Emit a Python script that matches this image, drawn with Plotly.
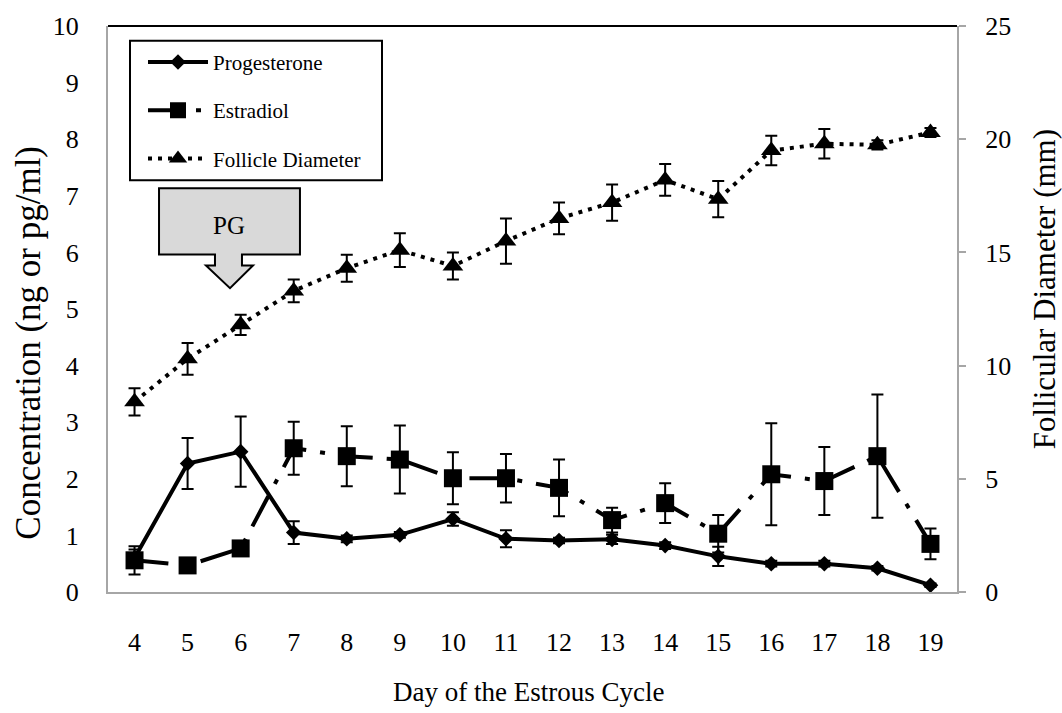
import plotly.graph_objects as go

days = list(range(4, 20))
progesterone = [0.60, 2.27, 2.48, 1.05, 0.94, 1.01, 1.29, 0.94, 0.91, 0.93, 0.82, 0.63, 0.50, 0.50, 0.42, 0.12]
progesterone_se = [0.15, 0.45, 0.62, 0.20, 0.06, 0.05, 0.12, 0.15, 0.05, 0.08, 0.06, 0.17, 0.05, 0.05, 0.04, 0.03]
estradiol = [0.56, 0.47, 0.77, 2.54, 2.40, 2.34, 2.01, 2.01, 1.84, 1.27, 1.57, 1.03, 2.08, 1.96, 2.40, 0.85]
estradiol_se = [0.25, 0.05, 0.10, 0.47, 0.53, 0.60, 0.46, 0.43, 0.50, 0.22, 0.35, 0.33, 0.90, 0.60, 1.09, 0.27]
follicle = [8.4, 10.3, 11.8, 13.3, 14.3, 15.1, 14.4, 15.5, 16.5, 17.2, 18.2, 17.35, 19.5, 19.8, 19.75, 20.3]
follicle_se = [0.6, 0.7, 0.45, 0.5, 0.6, 0.75, 0.6, 1.0, 0.7, 0.8, 0.7, 0.8, 0.65, 0.65, 0.2, 0.2]

FONT = "Liberation Serif, Times New Roman, serif"

# plot-area pixel geometry (used only for placing decorations)
L, R, T, B = 108, 957, 20, 592
def px(xp):
    return (xp - L) / (R - L)
def py(yp):
    return (B - yp) / (B - T)

fig = go.Figure()
fig.add_trace(go.Scatter(
    x=days, y=progesterone, name="Progesterone", legendgroup="a",
    mode="lines+markers",
    line=dict(color="black", width=4),
    marker=dict(symbol="diamond", size=12, color="black"),
    error_y=dict(type="data", array=progesterone_se, color="black", thickness=2, width=6),
))
fig.add_trace(go.Scatter(
    x=days, y=estradiol, name="Estradiol", legendgroup="b",
    mode="lines+markers",
    line=dict(color="black", width=4, dash="34px,14px,5px,14px"),
    marker=dict(symbol="square", size=18, color="black"),
    error_y=dict(type="data", array=estradiol_se, color="black", thickness=2, width=6),
))
fig.add_trace(go.Scatter(
    x=days, y=follicle, name="Follicle Diameter", legendgroup="c",
    mode="lines+markers", yaxis="y2",
    line=dict(color="black", width=4, dash="4px,6px"),
    marker=dict(symbol="triangle-up", size=18, color="black"),
    error_y=dict(type="data", array=follicle_se, color="black", thickness=2, width=6),
))

# PG arrow (box with downward arrow), in pixel -> paper coords
pts_px = [(159, 184), (300, 184), (300, 251), (242, 251), (242, 262),
          (253, 262), (230, 285), (206, 262), (215, 262), (215, 251), (159, 251)]
path = "M " + " L ".join(f"{px(x):.4f},{py(y):.4f}" for x, y in pts_px) + " Z"
fig.add_shape(type="path", path=path, xref="paper", yref="paper",
              fillcolor="#d9d9d9", line=dict(color="black", width=2), layer="above")
fig.add_annotation(x=px(229), y=py(222), xref="paper", yref="paper", text="PG", showarrow=False,
                   xanchor="center", yanchor="middle",
                   font=dict(family=FONT, size=25, color="black"))
# legend frame
fig.add_shape(type="rect", xref="paper", yref="paper",
              x0=px(130), x1=px(382), y0=py(176), y1=py(35),
              line=dict(color="black", width=2), fillcolor="rgba(0,0,0,0)", layer="above")
# top border line
fig.add_shape(type="line", xref="paper", yref="paper", x0=0, x1=1, y0=1, y1=1,
              line=dict(color="black", width=2))

# axis titles
fig.add_annotation(x=px(29), y=py(340), xref="paper", yref="paper",
                   text="Concentration (ng or pg/ml)", textangle=-90, showarrow=False,
                   xanchor="center", yanchor="middle",
                   font=dict(family=FONT, size=35, color="black"))
fig.add_annotation(x=px(1044), y=py(286), xref="paper", yref="paper",
                   text="Follicular Diameter (mm)", textangle=-90, showarrow=False,
                   xanchor="center", yanchor="middle",
                   font=dict(family=FONT, size=31, color="black"))
fig.add_annotation(x=px(528), y=py(693), xref="paper", yref="paper",
                   text="Day of the Estrous Cycle", showarrow=False,
                   xanchor="center", yanchor="middle",
                   font=dict(family=FONT, size=27, color="black"))

axis_font = dict(family=FONT, size=26, color="black")

fig.update_layout(
    width=1062, height=713,
    margin=dict(l=L, r=1062 - R, t=T, b=713 - B),
    paper_bgcolor="white", plot_bgcolor="white",
    showlegend=True,
    legend=dict(x=px(143), y=py(36), xanchor="left", yanchor="top",
                borderwidth=0, bgcolor="rgba(0,0,0,0)",
                font=dict(family=FONT, size=21, color="black"),
                traceorder="grouped", tracegroupgap=18, itemwidth=60),
    xaxis=dict(range=[3.5, 19.5], tickvals=days, ticktext=[str(d) for d in days],
               showline=True, linecolor="#a6a6a6", linewidth=2, ticks="",
               showgrid=False, zeroline=False, tickfont=axis_font,
               ticklabelstandoff=26),
    yaxis=dict(range=[0, 10], dtick=1, showline=True, linecolor="#a6a6a6", linewidth=2,
               ticks="", showgrid=False, zeroline=False, tickfont=axis_font,
               ticklabelstandoff=22),
    yaxis2=dict(range=[0, 25], dtick=5, overlaying="y", side="right",
                showline=True, linecolor="#a6a6a6", linewidth=2,
                ticks="outside", ticklen=7, tickcolor="#a6a6a6", tickwidth=2,
                showgrid=False, zeroline=False, tickfont=axis_font,
                ticklabelstandoff=14),
)

fig.write_html("out.html")
